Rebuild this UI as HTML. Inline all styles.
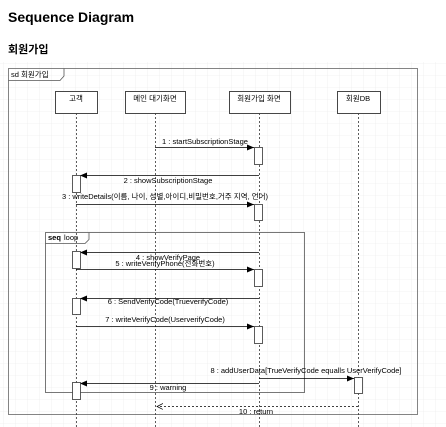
<!DOCTYPE html>
<html><head><meta charset="utf-8"><style>
html,body{margin:0;padding:0;background:#fff;width:446px;height:427px;overflow:hidden;font-family:"Liberation Sans","Noto Sans CJK KR",sans-serif}
.t{position:absolute;left:8px;top:9px;font-size:14px;font-weight:bold}
.s{position:absolute;left:8px;top:41px;font-size:11px;font-weight:bold}
svg text{font-size:7.5px;font-family:"Liberation Sans","Noto Sans CJK KR",sans-serif}
</style></head><body>
<div class="t">Sequence Diagram</div>
<div class="s">회원가입</div>
<svg width="446" height="427" style="position:absolute;left:0;top:0">
<defs>
<pattern id="g" width="12" height="12" patternUnits="userSpaceOnUse" x="4" y="4"><path d="M12 0V12M0 12H12" fill="none" stroke="#e8e8e8" stroke-width="0.6"/></pattern>
<marker id="a" markerWidth="8" markerHeight="8" refX="7" refY="3" orient="auto" markerUnits="userSpaceOnUse"><path d="M0,0L7,3L0,6z" fill="#000"/></marker>
<marker id="o" markerWidth="8" markerHeight="8" refX="6" refY="3" orient="auto" markerUnits="userSpaceOnUse"><path d="M0,0L6,3L0,6" fill="none" stroke="#000" stroke-width="0.7"/></marker>
</defs>
<rect x="0" y="62" width="446" height="365" fill="url(#g)"/>
<rect x="8.5" y="68.5" width="409" height="346" fill="none" stroke="#666" stroke-width="0.8"/>
<path d="M8.5 80.5H60L64 76V68.5" fill="none" stroke="#555" stroke-width="0.8"/>
<text x="11" y="77">sd 회원가입</text>
<g stroke="#333" stroke-dasharray="2,2" stroke-width="0.8">
<line x1="76.5" y1="113" x2="76.5" y2="427"/><line x1="155.5" y1="113" x2="155.5" y2="427"/>
<line x1="259.5" y1="113" x2="259.5" y2="427"/><line x1="358.5" y1="113" x2="358.5" y2="427"/>
</g>
<g fill="#fff" stroke="#333" stroke-width="0.9">
<rect x="55.5" y="91.5" width="42" height="22"/><rect x="125.5" y="91.5" width="60" height="22"/>
<rect x="229.5" y="91.5" width="61" height="22"/><rect x="337.5" y="91.5" width="43" height="22"/>
</g>
<g text-anchor="middle"><text x="76" y="101">고객</text><text x="155" y="101">메인 대기화면</text><text x="259" y="101">회원가입 화면</text><text x="358" y="101">회원DB</text></g>
<rect x="45.5" y="232.5" width="259" height="160" fill="none" stroke="#555" stroke-width="0.8"/>
<path d="M45.5 243.5H85L89 239.5V232.5" fill="none" stroke="#555" stroke-width="0.8"/>
<text x="48" y="240" font-weight="bold">seq</text><text x="64" y="240">loop</text>
<g stroke="#000" stroke-width="0.8" fill="none" marker-end="url(#a)">
<line x1="155" y1="147.5" x2="254" y2="147.5"/><line x1="259" y1="175.5" x2="80" y2="175.5"/>
<line x1="76" y1="204.5" x2="254" y2="204.5"/><line x1="259" y1="252.5" x2="80" y2="252.5"/>
<line x1="76" y1="269.5" x2="254" y2="269.5"/><line x1="259" y1="298.5" x2="80" y2="298.5"/>
<line x1="76" y1="326.5" x2="254" y2="326.5"/><line x1="259" y1="378.5" x2="354" y2="378.5"/>
<line x1="259" y1="383.5" x2="80" y2="383.5"/>
</g>
<line x1="358" y1="406.5" x2="157" y2="406.5" stroke="#000" stroke-width="0.7" stroke-dasharray="2,2" marker-end="url(#o)"/>
<g fill="#fff" stroke="#333" stroke-width="0.8">
<rect x="254.5" y="147.5" width="8" height="17"/><rect x="72.5" y="175.5" width="8" height="17"/>
<rect x="254.5" y="204.5" width="8" height="16"/><rect x="72.5" y="251.5" width="8" height="17"/>
<rect x="254.5" y="269.5" width="8" height="17"/><rect x="72.5" y="298.5" width="8" height="16"/>
<rect x="254.5" y="326.5" width="8" height="17"/><rect x="354.5" y="377.5" width="8" height="16"/>
<rect x="72.5" y="382.5" width="8" height="17"/>
</g>
<g text-anchor="middle">
<text x="205" y="144">1 : startSubscriptionStage</text>
<text x="168" y="183">2 : showSubscriptionStage</text>
<text x="165" y="199">3 : writeDetails(이름, 나이, 성별,아이디,비밀번호,거주 지역, 언어)</text>
<text x="168" y="260">4 : showVerifyPage</text>
<text x="165" y="266">5 : writeVerifyPhone(전화번호)</text>
<text x="168" y="304">6 : SendVerifyCode(TrueverifyCode)</text>
<text x="165" y="322">7 : writeVerifyCode(UserverifyCode)</text>
<text x="306" y="373">8 : addUserData[TrueVerifyCode equalls UserVerifyCode]</text>
<text x="168" y="390">9 : warning</text>
<text x="256" y="414">10 : return</text>
</g>
</svg>
</body></html>
